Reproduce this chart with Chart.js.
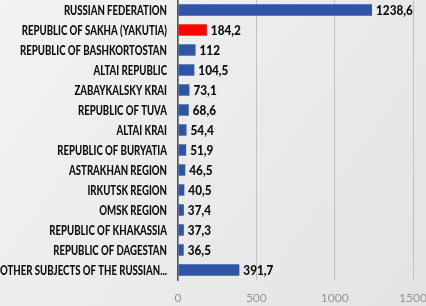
<!DOCTYPE html>
<html>
<head>
<meta charset="utf-8">
<script src="https://cdn.jsdelivr.net/npm/chart.js@4/dist/chart.umd.min.js"></script>
<style>
  html, body { margin: 0; padding: 0; background: #ececec; }
  #wrap { width: 426px; height: 306px; }
</style>
</head>
<body>
<div id="wrap"><canvas id="regions"></canvas></div>
<script>
var regions = [
    'RUSSIAN FEDERATION',
    'REPUBLIC OF SAKHA (YAKUTIA)',
    'REPUBLIC OF BASHKORTOSTAN',
    'ALTAI REPUBLIC',
    'ZABAYKALSKY KRAI',
    'REPUBLIC OF TUVA',
    'ALTAI KRAI',
    'REPUBLIC OF BURYATIA',
    'ASTRAKHAN REGION',
    'IRKUTSK REGION',
    'OMSK REGION',
    'REPUBLIC OF KHAKASSIA',
    'REPUBLIC OF DAGESTAN',
    'OTHER SUBJECTS OF THE RUSSIAN...'
];
var values = [1238.6, 184.2, 112, 104.5, 73.1, 68.6, 54.4, 51.9, 46.5, 40.5, 37.4, 37.3, 36.5, 391.7];
var xTicks = [0, 500, 1000, 1500];

var fontFam = "Lato, 'Liberation Sans', sans-serif";

var barColors = values.map(function (v, i) {
    return i === 1 ? '#ff0000' : '#2f56a6';
});

var bgPlugin = {
    id: 'bg',
    beforeDraw: function (chart) {
        var ctx = chart.ctx;
        var g = ctx.createLinearGradient(0, 0, chart.width, chart.height);
        g.addColorStop(0, '#f3f3f3');
        g.addColorStop(1, '#e3e3e3');
        ctx.save();
        ctx.fillStyle = g;
        ctx.fillRect(0, 0, chart.width, chart.height);
        ctx.restore();
    }
};

// squeezed text, to look like the narrow bold font of the original
function squeezed(ctx, txt, x, y, sx, align) {
    ctx.save();
    ctx.translate(x, y);
    ctx.scale(sx, 1);
    ctx.textAlign = align;
    ctx.fillText(txt, 0, 0);
    ctx.restore();
}

var textPlugin = {
    id: 'texts',
    afterDatasetsDraw: function (chart) {
        var ctx = chart.ctx;
        var yScale = chart.scales.y;
        var meta = chart.getDatasetMeta(0);
        ctx.save();
        ctx.textBaseline = 'middle';
        ctx.fillStyle = '#0d0d0d';

        // category labels
        ctx.font = "900 13px " + fontFam;
        var longest = ctx.measureText(regions[regions.length - 1]).width;
        var sx = 167 / longest;
        regions.forEach(function (name, i) {
            squeezed(ctx, name, yScale.right - 11, yScale.getPixelForValue(i) + 0.5, sx, 'right');
        });

        // value labels
        ctx.font = "900 14px " + fontFam;
        meta.data.forEach(function (bar, i) {
            var txt = String(values[i]).replace('.', ',');
            squeezed(ctx, txt, bar.x + 4, bar.y + 0.5, 0.84, 'left');
        });
        ctx.restore();
    }
};

var chart = new Chart(document.getElementById('regions'), {
    type: 'bar',
    data: {
        labels: regions,
        datasets: [{
            data: values,
            backgroundColor: barColors,
            barPercentage: 0.6,
            categoryPercentage: 0.95
        }]
    },
    options: {
        indexAxis: 'y',
        responsive: true,
        maintainAspectRatio: false,
        animation: false,
        layout: { padding: { top: 0, right: 13, bottom: 0, left: 0 } },
        plugins: {
            legend: { display: false },
            tooltip: { enabled: false }
        },
        scales: {
            x: {
                min: 0,
                max: 1500,
                afterBuildTicks: function (axis) {
                    axis.ticks = xTicks.map(function (v) { return { value: v }; });
                },
                afterFit: function (axis) {
                    axis.height = 26;
                    axis.paddingLeft = 0;
                    axis.paddingRight = 0;
                },
                grid: { color: '#c2c2c2', drawTicks: false },
                border: { display: false },
                ticks: {
                    padding: 11,
                    color: '#959595',
                    font: { size: 12, family: fontFam },
                    callback: function (v) { return String(v); }
                }
            },
            y: {
                afterFit: function (axis) {
                    axis.width = 178;
                    axis.paddingTop = 0;
                    axis.paddingBottom = 0;
                },
                grid: { display: false },
                border: { display: true, color: '#555', width: 1.5 },
                ticks: { display: false }
            }
        }
    },
    plugins: [bgPlugin, textPlugin]
});
</script>
</body>
</html>
